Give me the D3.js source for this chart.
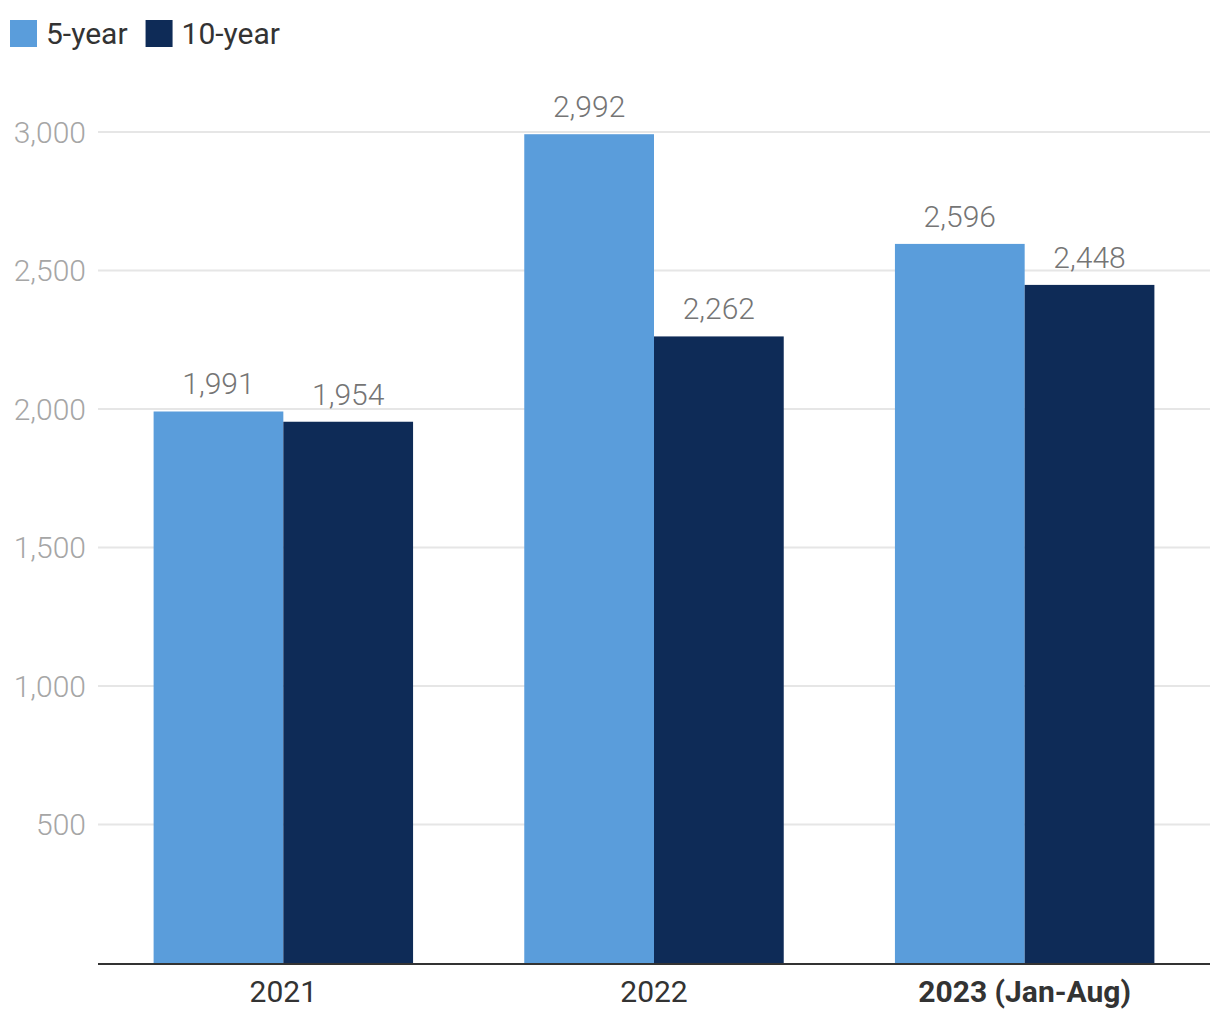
<!DOCTYPE html>
<html><head><meta charset="utf-8">
<script src="https://cdn.jsdelivr.net/npm/d3@7"></script>
<style>body{margin:0;background:#fff;font-family:Roboto,sans-serif;}</style>
</head><body><svg id="c" width="1220" height="1020"></svg>
<script>
const categories = ["2021", "2022", "2023 (Jan-Aug)"];
const seriesNames = ["5-year", "10-year"];
const fiveYear = [1991, 2992, 2596];
const tenYear = [1954, 2262, 2448];
const yTicks = [500, 1000, 1500, 2000, 2500, 3000];
const colors = ["#5a9ddb", "#0e2b57"];

const svg = d3.select("#c");
const mLeft = 98, mRight = 1210, mTop = 132, mBottom = 963;
const x = d3.scaleBand().domain(categories).range([mLeft, mRight]).paddingInner(0.3).paddingOuter(0.15);
const x1 = d3.scaleBand().domain(seriesNames).range([0, x.bandwidth()]);
const y = d3.scaleLinear().domain([0, 3000]).range([mBottom, mTop]);
const fmt = d3.format(",");

// gridlines
svg.append("g").selectAll("line").data(yTicks).join("line")
  .attr("x1", mLeft).attr("x2", mRight)
  .attr("y1", d => y(d)).attr("y2", d => y(d))
  .attr("stroke", "#e6e6e6").attr("stroke-width", 2);
svg.append("g").selectAll("text").data(yTicks).join("text")
  .attr("x", 86).attr("y", d => y(d)).attr("dy", "0.35em")
  .attr("text-anchor", "end").attr("font-size", 30).attr("font-weight", 300)
  .attr("fill", "#a6a6a6").text(d => fmt(d));

const data = categories.map((c, i) => ({c, vals: [fiveYear[i], tenYear[i]]}));
const g = svg.append("g").selectAll("g").data(data).join("g")
  .attr("transform", d => `translate(${x(d.c)},0)`);
g.selectAll("rect").data(d => d.vals.map((v, j) => ({v, s: seriesNames[j], j}))).join("rect")
  .attr("x", d => x1(d.s)).attr("width", x1.bandwidth())
  .attr("y", d => y(d.v)).attr("height", d => mBottom - y(d.v))
  .attr("fill", d => colors[d.j]);
g.selectAll("text").data(d => d.vals.map((v, j) => ({v, s: seriesNames[j], j}))).join("text")
  .attr("x", d => x1(d.s) + x1.bandwidth() / 2).attr("y", d => y(d.v) - 17)
  .attr("text-anchor", "middle").attr("font-size", 30).attr("font-weight", 300)
  .attr("fill", "#757575").text(d => fmt(d.v));

// baseline
svg.append("line").attr("x1", mLeft).attr("x2", mRight).attr("y1", mBottom + 1).attr("y2", mBottom + 1)
  .attr("stroke", "#333").attr("stroke-width", 2);
svg.append("g").selectAll("text").data(categories).join("text")
  .attr("x", d => x(d) + x.bandwidth() / 2).attr("y", 1002)
  .attr("text-anchor", "middle").attr("font-size", 30)
  .attr("font-weight", (d, i) => i === categories.length - 1 ? 700 : 400)
  .attr("fill", "#333").text(d => d);

// legend
const leg = svg.append("g");
let lx = 10;
seriesNames.forEach((s, i) => {
  leg.append("rect").attr("x", lx).attr("y", 20).attr("width", 27).attr("height", 27).attr("fill", colors[i]);
  const t = leg.append("text").attr("x", lx + 36).attr("y", 44).attr("font-size", 30)
    .attr("fill", "#333").text(s);
  lx += 36 + t.node().getComputedTextLength() + 18;
});
</script></body></html>
